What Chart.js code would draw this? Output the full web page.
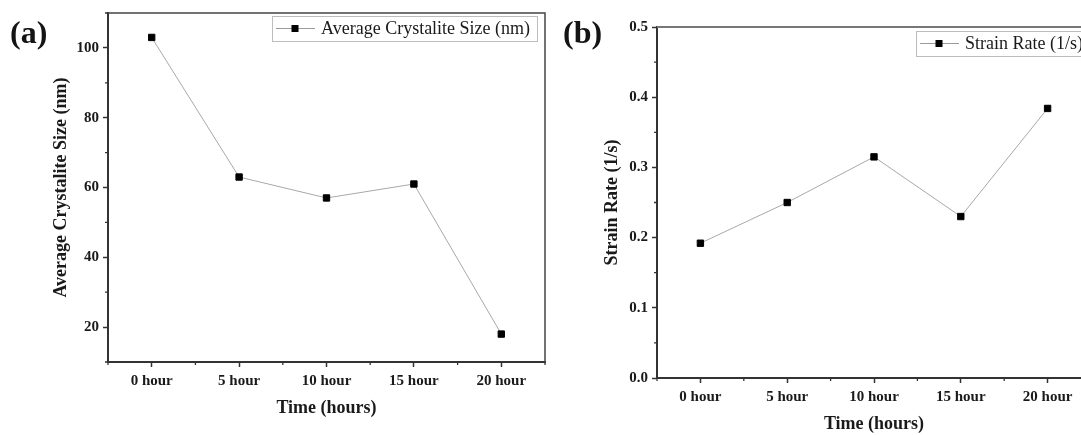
<!DOCTYPE html>
<html>
<head>
<meta charset="utf-8">
<script src="https://cdn.jsdelivr.net/npm/chart.js@4.4.1/dist/chart.umd.min.js"></script>
<style>
  html, body { margin: 0; padding: 0; background: #fff; overflow: hidden; }
  body { width: 1081px; height: 435px; position: relative; }
  .panel { position: absolute; top: 0; width: 560px; height: 435px; }
</style>
</head>
<body>
<div class="panel" style="left:0"><canvas id="sizeChart" width="560" height="435"></canvas></div>
<div class="panel" style="left:560px"><canvas id="strainChart" width="560" height="435"></canvas></div>
<script>
const HOURS = ['0 hour', '5 hour', '10 hour', '15 hour', '20 hour'];
const crystaliteSize = [103, 63, 57, 61, 18];
const strainRate = [0.192, 0.25, 0.315, 0.23, 0.384];

const sizeTicks = [20, 40, 60, 80, 100];
const sizeMinorTicks = [10, 30, 50, 70, 90, 110];
const strainTicks = [0, 0.1, 0.2, 0.3, 0.4, 0.5];
const strainMinorTicks = [0.05, 0.15, 0.25, 0.35, 0.45];
const hourMinorTicks = [-0.5, 0.5, 1.5, 2.5, 3.5, 4.5];

const SERIF = '"Liberation Serif", "Times New Roman", serif';
const INK = '#1a1a1a';

// box frame, minor ticks, boxed legend and the panel letter
const framePlugin = {
  id: 'frame',
  afterDraw(chart, args, opts) {
    const { ctx, chartArea: a, scales: { x, y } } = chart;
    ctx.save();

    ctx.strokeStyle = opts.edgeColor;
    ctx.lineWidth = opts.edgeWidth;
    ctx.beginPath();
    ctx.moveTo(a.left, a.top);
    ctx.lineTo(a.right, a.top);
    ctx.lineTo(a.right, a.bottom);
    ctx.stroke();

    ctx.strokeStyle = '#333';
    ctx.lineWidth = 1.3;
    ctx.beginPath();
    hourMinorTicks.forEach(v => {
      const px = x.getPixelForValue(v);
      ctx.moveTo(px, a.bottom);
      ctx.lineTo(px, a.bottom + 3);
    });
    opts.yMinor.forEach(v => {
      const py = y.getPixelForValue(v);
      ctx.moveTo(a.left, py);
      ctx.lineTo(a.left - 3, py);
    });
    ctx.stroke();

    const lg = opts.legend;
    ctx.strokeStyle = '#bdbdbd';
    ctx.lineWidth = 1;
    ctx.strokeRect(lg.x + 0.5, lg.y + 0.5, lg.w, lg.h);
    const my = lg.y + lg.h / 2;
    ctx.strokeStyle = '#9a9a9a';
    ctx.beginPath();
    ctx.moveTo(lg.x + 4, my);
    ctx.lineTo(lg.x + 43, my);
    ctx.stroke();
    ctx.fillStyle = '#000';
    ctx.fillRect(lg.x + 23 - 3.5, my - 3.5, 7, 7);
    ctx.fillStyle = INK;
    ctx.font = '18px ' + SERIF;
    ctx.textBaseline = 'middle';
    ctx.textAlign = 'left';
    ctx.fillText(chart.data.datasets[0].label, lg.x + 49, my + 0.5);

    ctx.font = 'bold 32px ' + SERIF;
    ctx.textBaseline = 'alphabetic';
    ctx.fillStyle = '#141414';
    ctx.fillText(opts.letter, opts.letterX, 43);

    ctx.restore();
  }
};

function makeChart(id, o) {
  return new Chart(document.getElementById(id), {
    type: 'line',
    data: {
      labels: HOURS,
      datasets: [{
        label: o.label,
        data: o.data,
        borderColor: '#a8a8a8',
        borderWidth: 1,
        pointStyle: 'rect',
        pointRadius: 4.5,
        pointBackgroundColor: '#000',
        pointBorderColor: '#000',
        pointBorderWidth: 1,
        tension: 0,
        clip: false
      }]
    },
    options: {
      responsive: false,
      animation: false,
      layout: { padding: o.padding },
      plugins: {
        legend: { display: false },
        tooltip: { enabled: false },
        frame: o.frame
      },
      scales: {
        x: {
          type: 'category',
          offset: true,
          grid: { drawOnChartArea: false, drawTicks: true, tickLength: 5, tickColor: '#333', tickWidth: 1.5, offset: false },
          border: { display: true, color: '#333', width: 2 },
          ticks: { color: INK, font: { family: SERIF, weight: 'bold', size: 15 }, padding: 5, maxRotation: 0, autoSkip: false },
          title: { display: true, text: 'Time (hours)', color: INK, font: { family: SERIF, weight: 'bold', size: 18 }, padding: { top: 0, bottom: o.xTitlePad } },
          afterFit: s => { s.height = o.xHeight; }
        },
        y: {
          type: 'linear',
          min: o.min,
          max: o.max,
          afterBuildTicks: s => { s.ticks = o.ticks.map(v => ({ value: v })); },
          grid: { drawOnChartArea: false, drawTicks: true, tickLength: 5, tickColor: '#333', tickWidth: 1.5 },
          border: { display: true, color: '#333', width: 2 },
          ticks: { color: INK, font: { family: SERIF, weight: 'bold', size: 15 }, padding: 4, callback: o.fmt },
          title: { display: true, text: o.yTitle, color: INK, font: { family: SERIF, weight: 'bold', size: 18 }, padding: { top: o.yTitlePad, bottom: 0 } },
          afterFit: s => { s.width = o.yWidth; }
        }
      }
    },
    plugins: [framePlugin]
  });
}

makeChart('sizeChart', {
  label: 'Average Crystalite Size (nm)',
  data: crystaliteSize,
  yTitle: 'Average Crystalite Size (nm)',
  min: 10, max: 110,
  ticks: sizeTicks,
  fmt: v => String(v),
  padding: { left: 0, right: 15, top: 10, bottom: 0 },
  yWidth: 108, xHeight: 73,
  xTitlePad: 16, yTitlePad: 51,
  frame: {
    edgeColor: '#444', edgeWidth: 1.5,
    yMinor: sizeMinorTicks,
    legend: { x: 272, y: 16, w: 265, h: 25 },
    letter: '(a)', letterX: 10
  }
});

makeChart('strainChart', {
  label: 'Strain Rate (1/s)',
  data: strainRate,
  yTitle: 'Strain Rate (1/s)',
  min: 0, max: 0.5,
  ticks: strainTicks,
  fmt: v => v.toFixed(1),
  padding: { left: 0, right: 29, top: 27, bottom: 0 },
  yWidth: 97, xHeight: 57,
  xTitlePad: 0, yTitlePad: 42,
  frame: {
    edgeColor: '#777', edgeWidth: 2,
    yMinor: strainMinorTicks,
    legend: { x: 356, y: 31, w: 170, h: 25 },
    letter: '(b)', letterX: 3
  }
});
</script>
</body>
</html>
